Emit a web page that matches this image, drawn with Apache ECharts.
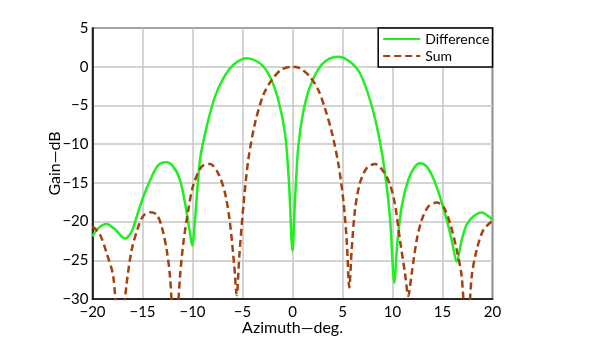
<!DOCTYPE html>
<html>
<head>
<meta charset="utf-8">
<script src="https://cdn.jsdelivr.net/npm/echarts@6/dist/echarts.min.js"></script>
<style>
html,body{margin:0;padding:0;background:#fff;}
#chart{width:595px;height:355px;}
</style>
</head>
<body>
<div id="chart"></div>
<script>
// Azimuth (deg) and gain (dB)
const diffAz = [-20, -19.42, -18.6, -17.75, -16.75, -16.08, -15.58, -14.92, -14.08, -13.42, -12.65, -11.92, -11.25, -10.75, -10.25, -10.03, -9.75, -9.25, -8.58, -7.75, -6.92, -5.92, -4.58, -3.25, -2.25, -1.42, -0.75, -0.35, 0, 0.25, 0.58, 1.08, 1.75, 2.75, 3.75, 4.58, 5.75, 6.75, 7.75, 8.58, 9.25, 9.75, 10.18, 10.48, 10.92, 11.58, 12.25, 12.75, 13.42, 14.08, 14.75, 15.42, 15.92, 16.42, 16.92, 17.42, 18.08, 18.92, 19.58, 20];
const diffGain = [-21.9, -20.85, -20.3, -21.0, -22.2, -21.3, -19.35, -16.8, -14.2, -12.7, -12.35, -12.9, -14.6, -17.6, -21.5, -23.1, -19.8, -12.0, -7.74, -3.87, -1.5, 0.22, 1.08, 0.43, -1.29, -4.3, -8.6, -15.0, -23.8, -17.2, -10.3, -5.8, -2.58, 0, 1.08, 1.3, 0.65, -0.85, -4.3, -8.6, -13.75, -19.5, -27.9, -22.8, -18.06, -14.6, -12.9, -12.47, -12.9, -14.4, -16.8, -19.8, -22.4, -25.2, -22.4, -20.4, -19.35, -18.84, -19.3, -19.8];

const sumAz = [-20, -19.25, -18.58, -17.92, -17.32, -16.58, -16.08, -15.42, -14.92, -14.25, -13.58, -13.08, -12.58, -12.25, -11.75, -11.25, -10.92, -10.42, -9.92, -9.08, -8.25, -7.42, -6.75, -6.25, -5.82, -5.58, -5.32, -4.92, -4.42, -3.75, -2.92, -2.08, -1.08, 0, 0.75, 1.75, 2.58, 3.25, 3.92, 4.58, 5.08, 5.42, 5.68, 5.92, 6.25, 6.75, 7.42, 8.25, 9.08, 9.75, 10.25, 10.75, 11.25, 11.58, 11.92, 12.42, 12.92, 13.58, 14.42, 15.08, 15.75, 16.42, 16.92, 17.42, 17.92, 18.42, 19.08, 20];
const sumGain = [-20.6, -21.7, -24.1, -27.1, -36, -27.95, -23.65, -20.65, -19.26, -18.8, -19.1, -20.65, -23.65, -27.1, -36, -27.1, -22.8, -18.5, -15.3, -12.9, -12.55, -13.8, -16.3, -20.2, -25.8, -29.5, -24.5, -18.1, -12.0, -7.3, -3.65, -1.72, -0.34, 0, -0.2, -1.29, -3.0, -5.4, -8.4, -12.5, -17.2, -22.4, -28.5, -23.6, -18.5, -15.0, -13.1, -12.55, -13.5, -15.2, -17.8, -22.4, -26.7, -29.6, -26.7, -22.4, -19.8, -18.06, -17.55, -18.06, -20.2, -23.65, -27.1, -36, -27.1, -23.65, -21.1, -19.9];

const seriesNames = ['Difference', 'Sum'];
const xTitle = 'Azimuth\u2014deg.';
const yTitle = 'Gain\u2014dB';

const FONT = 'Lato';
const minusFmt = v => String(v).replace('-', '\u2212');

const chart = echarts.init(document.getElementById('chart'), null, {renderer: 'canvas'});
chart.setOption({
  animation: false,
  backgroundColor: '#ffffff',
  grid: {left: 92.5, right: 102.5, top: 28, bottom: 56, show: true, borderColor: '#000', borderWidth: 1.5, backgroundColor: 'transparent'},
  legend: {
    orient: 'vertical', right: 102.5, top: 28,
    backgroundColor: '#fff', borderColor: '#000', borderWidth: 1.5,
    padding: [4, 3, 4, 4], itemGap: 3, itemWidth: 37, itemHeight: 12,
    itemStyle: {opacity: 0},
    textStyle: {fontFamily: FONT, fontSize: 14, color: '#000'},
    data: seriesNames
  },
  xAxis: {
    type: 'value', min: -20, max: 20, interval: 5,
    name: xTitle, nameLocation: 'middle', nameGap: 21, nameMoveOverlap: false,
    nameTextStyle: {fontFamily: FONT, fontSize: 16, color: '#000'},
    axisLine: {show: true, onZero: false, lineStyle: {color: '#000', width: 1.5}},
    axisTick: {show: false},
    axisLabel: {fontFamily: FONT, fontSize: 15, color: '#000', margin: 6, formatter: minusFmt},
    splitLine: {show: true, lineStyle: {color: '#c6c6c6', width: 1.5}}
  },
  yAxis: {
    type: 'value', min: -30, max: 5, interval: 5,
    name: yTitle, nameLocation: 'middle', nameGap: 30, nameRotate: 90, nameMoveOverlap: false,
    nameTextStyle: {fontFamily: FONT, fontSize: 16, color: '#000'},
    axisLine: {show: true, onZero: false, lineStyle: {color: '#000', width: 1.5}},
    axisTick: {show: false},
    axisLabel: {fontFamily: FONT, fontSize: 15, color: '#000', margin: 4, formatter: minusFmt},
    splitLine: {show: true, lineStyle: {color: '#c6c6c6', width: 1.5}}
  },
  series: [
    {
      name: seriesNames[0], type: 'line', symbol: 'none', smooth: 0.3,
      data: diffAz.map((x, i) => [x, diffGain[i]]),
      lineStyle: {color: '#22ee22', width: 2.5},
      itemStyle: {color: '#22ee22'},
      clip: true
    },
    {
      name: seriesNames[1], type: 'line', symbol: 'none', smooth: 0.3,
      data: sumAz.map((x, i) => [x, sumGain[i]]),
      lineStyle: {color: '#a4420e', width: 2.5, type: [7, 4]},
      itemStyle: {color: '#a4420e'},
      clip: true
    }
  ]
});
</script>
</body>
</html>
